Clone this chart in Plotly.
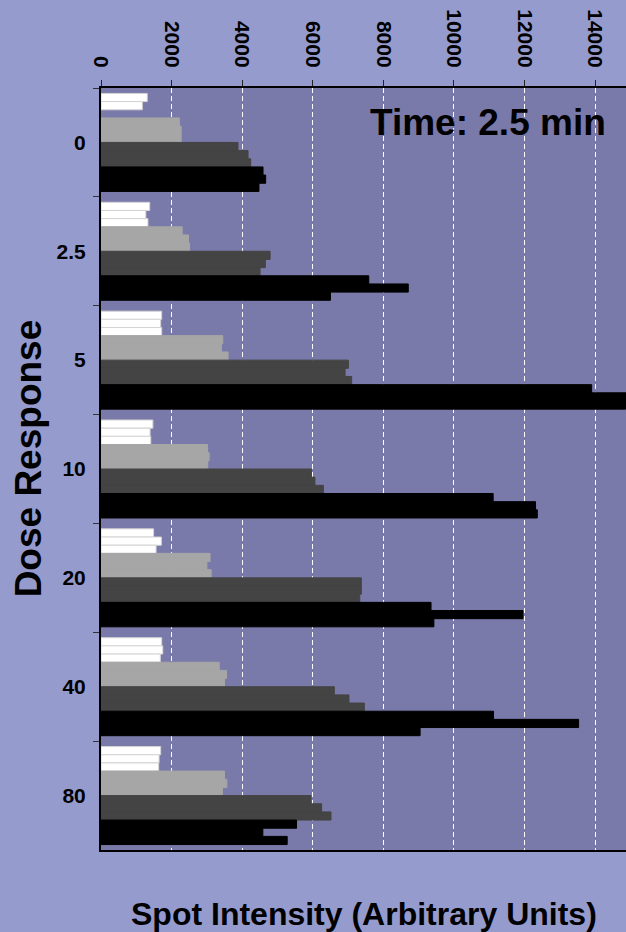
import plotly.graph_objects as go

# ---- data ----
doses = ["0", "2.5", "5", "10", "20", "40", "80"]

white_r1 = [1310, 1380, 1720, 1470, 1490, 1720, 1690]
white_r2 = [1170, 1270, 1690, 1390, 1710, 1750, 1645]
white_r3 = [None, 1330, 1720, 1410, 1560, 1680, 1635]

gray_r1 = [2220, 2300, 3450, 3020, 3090, 3350, 3500]
gray_r2 = [2270, 2480, 3410, 3065, 3000, 3555, 3565]
gray_r3 = [2270, 2510, 3600, 3025, 3120, 3500, 3440]

dark_r1 = [3880, 4790, 7010, 5960, 7375, 6610, 5950]
dark_r2 = [4165, 4655, 6915, 6060, 7375, 7025, 6250]
dark_r3 = [4240, 4505, 7100, 6300, 7330, 7460, 6515]

black_r1 = [4590, 7585, 13900, 11110, 9350, 11120, 5540]
black_r2 = [4665, 8705, 15200, 12310, 11955, 13530, 4585]
black_r3 = [4475, 6500, 14860, 12360, 9430, 9040, 5275]

x_ticks = [0, 2000, 4000, 6000, 8000, 10000, 12000, 14000]

series = [
    (white_r1, "#FFFFFF", "#D4D4D4"),
    (white_r2, "#FFFFFF", "#D4D4D4"),
    (white_r3, "#FFFFFF", "#D4D4D4"),
    (gray_r1, "#A6A6A6", "#A6A6A6"),
    (gray_r2, "#A6A6A6", "#A6A6A6"),
    (gray_r3, "#A6A6A6", "#A6A6A6"),
    (dark_r1, "#444444", "#444444"),
    (dark_r2, "#444444", "#444444"),
    (dark_r3, "#444444", "#444444"),
    (black_r1, "#000000", "#000000"),
    (black_r2, "#000000", "#000000"),
    (black_r3, "#000000", "#000000"),
]

FONT = "Liberation Sans, Arial, sans-serif"

fig = go.Figure()
for vals, fill, edge in series:
    fig.add_trace(go.Bar(
        x=vals, y=doses, orientation="h",
        marker=dict(color=fill, line=dict(color=edge, width=1)),
        showlegend=False,
    ))

fig.update_layout(
    width=626, height=932,
    margin=dict(l=101, r=0, t=88, b=82),
    paper_bgcolor="#959BCD",
    plot_bgcolor="#7979AA",
    barmode="group",
    bargap=0.1,
    bargroupgap=0,
    font=dict(family=FONT, color="#000000"),
)

fig.update_xaxes(
    side="top",
    range=[0, 14873],
    tickvals=x_ticks,
    ticktext=[str(v) for v in x_ticks],
    tickangle=90,
    tickfont=dict(size=21, family=FONT, weight="bold"),
    ticks="outside", ticklen=6, tickcolor="#222222", tickwidth=1,
    ticklabelstandoff=5,
    showline=True, linecolor="#000000", linewidth=2, mirror=True,
    showgrid=True, gridcolor="#FFFFFF", gridwidth=1, griddash="5px,3px",
    zeroline=False,
)

fig.update_yaxes(
    type="category",
    autorange="reversed",
    tickson="boundaries",
    ticks="outside", ticklen=6, tickcolor="#333333", tickwidth=1,
    tickfont=dict(size=21, family=FONT, weight="bold"),
    showline=True, linecolor="#000000", linewidth=2,
    showgrid=False,
    ticklabelstandoff=9,
)

fig.add_annotation(
    text="Dose Response", textangle=-90,
    xref="paper", yref="paper", x=-0.139, y=0.514,
    xanchor="center", yanchor="middle", showarrow=False,
    font=dict(size=37, family=FONT, weight="bold", color="#000000"),
)
fig.add_annotation(
    text="Spot Intensity (Arbitrary Units)",
    xref="paper", yref="paper", x=0.5, y=-0.084,
    xanchor="center", yanchor="middle", showarrow=False,
    font=dict(size=32, family=FONT, weight="bold", color="#000000"),
)
fig.add_annotation(
    text="Time: 2.5 min",
    xref="paper", yref="paper", x=0.966, y=0.955,
    xanchor="right", yanchor="middle", showarrow=False,
    font=dict(size=37, family=FONT, weight="bold", color="#000000"),
)

fig.write_html(
    "out.html",
    config={"displayModeBar": False},
    post_script="document.body.style.margin='0';document.body.style.overflow='hidden';",
)
